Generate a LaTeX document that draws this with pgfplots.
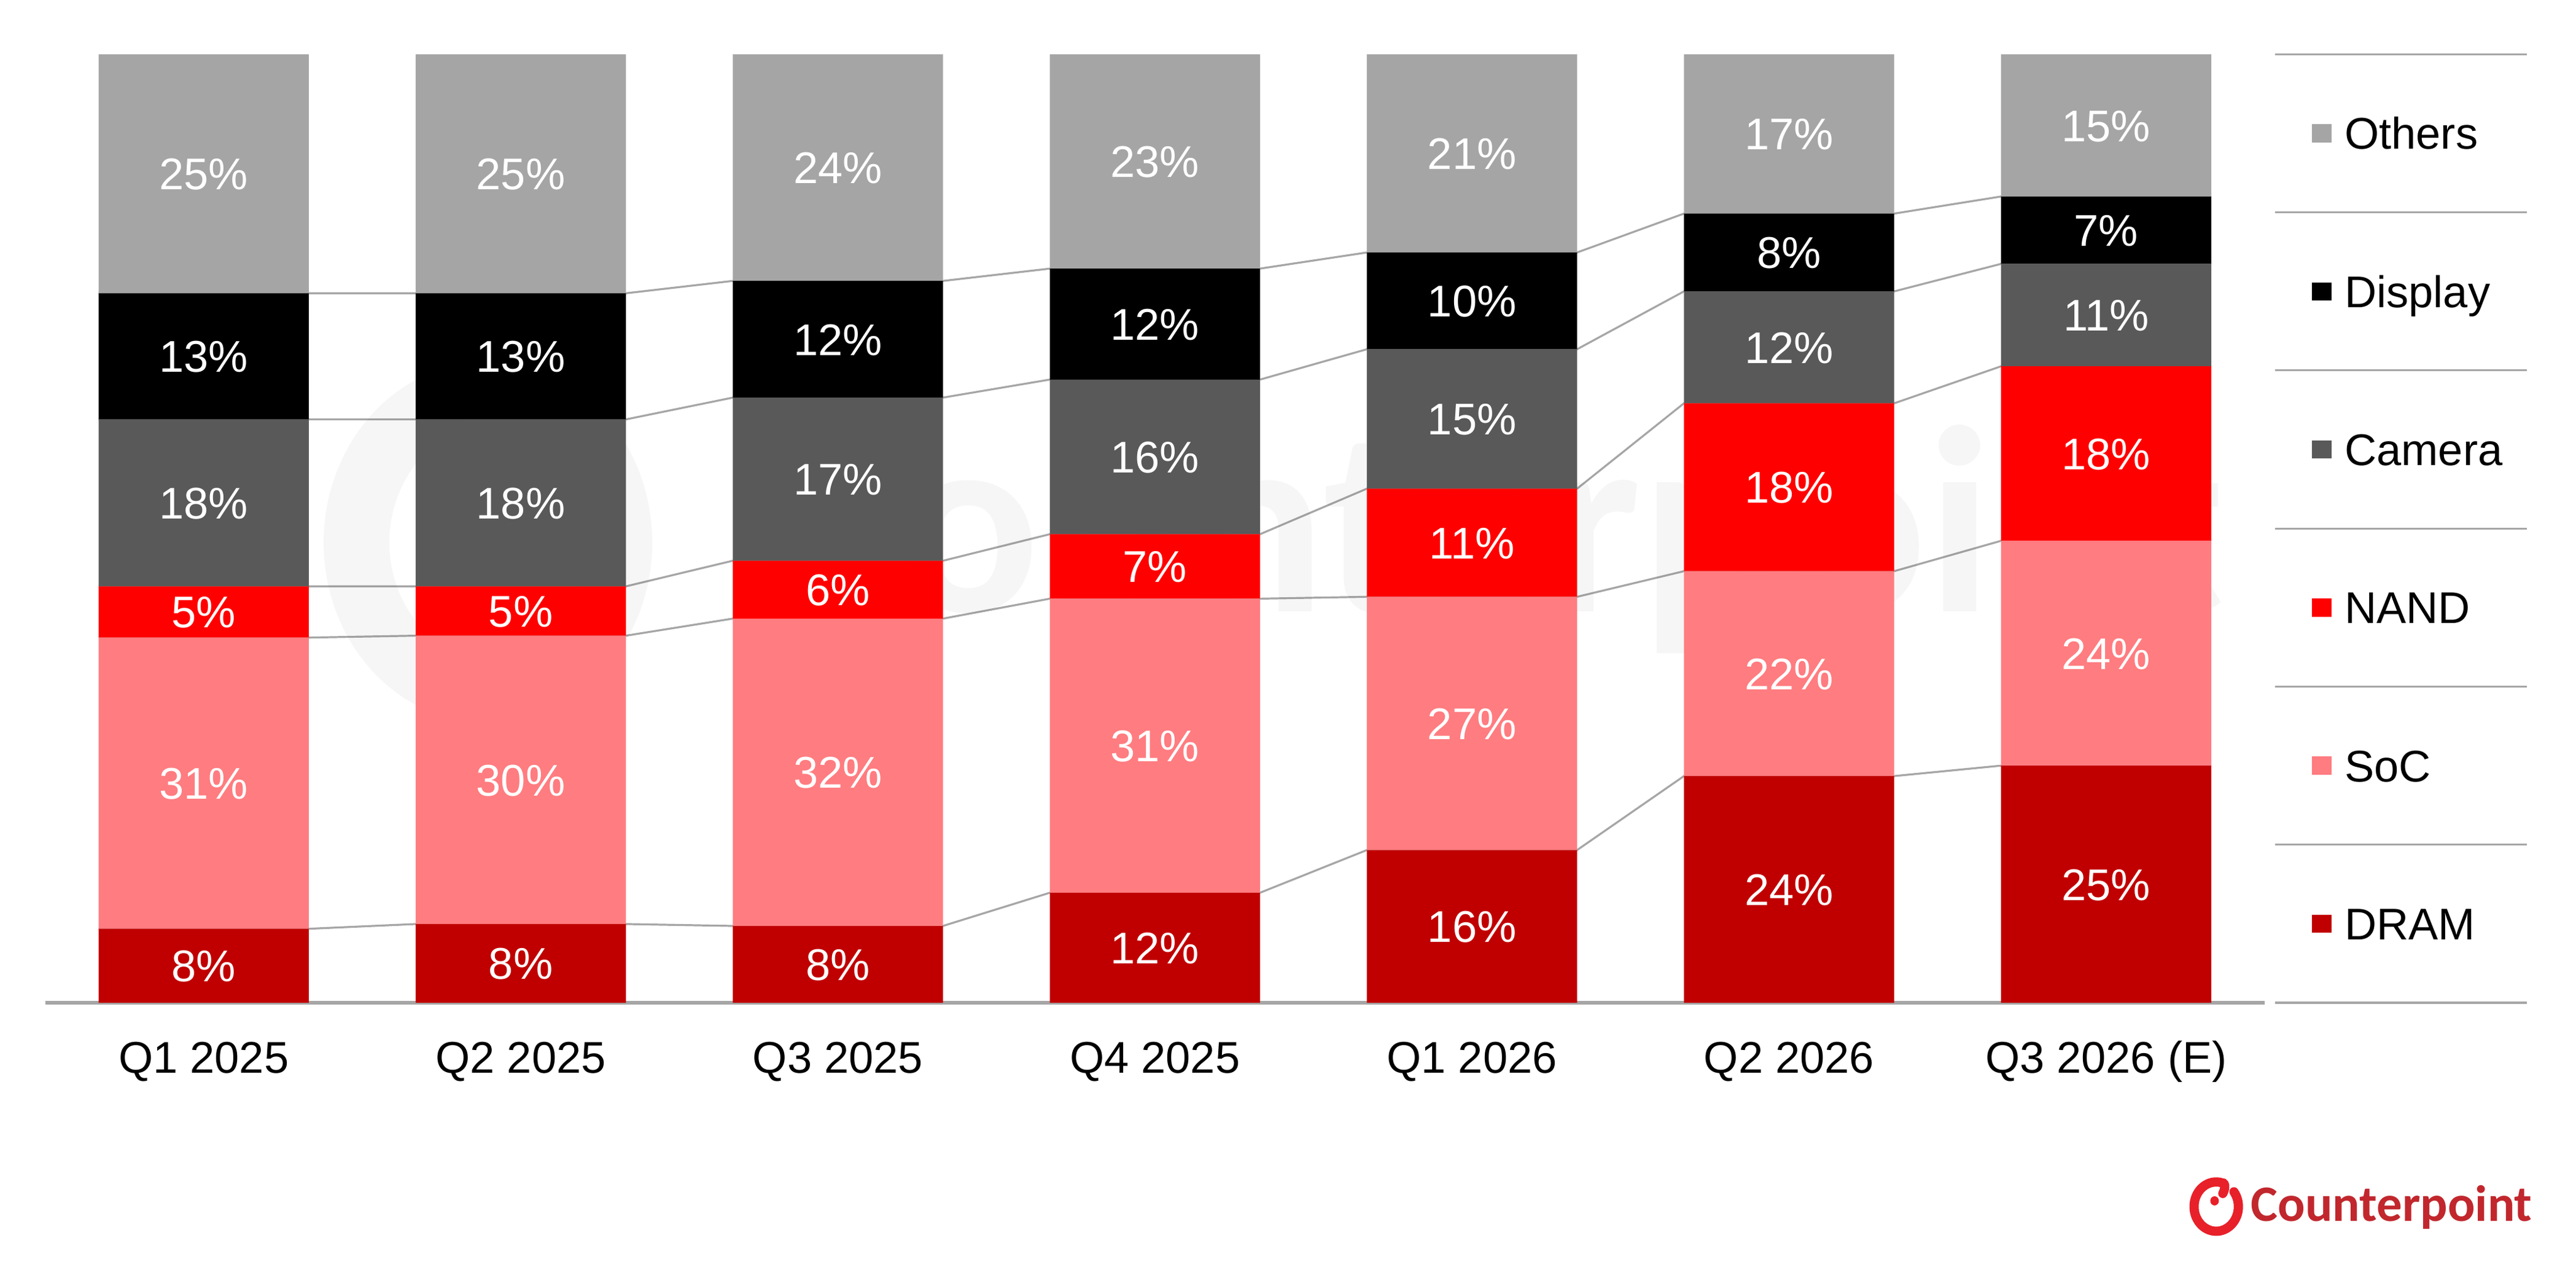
\documentclass[border=0pt]{standalone}
\usepackage{fontspec}
\setmainfont{Liberation Sans}
\newfontfamily\logofont{Carlito}
\usepackage{pgfplots}
\pgfplotsset{compat=1.18}
\usepackage{pgfplotstable}
\definecolor{cDram}{HTML}{C00000}
\definecolor{cSoc}{HTML}{FF7C80}
\definecolor{cNand}{HTML}{FF0000}
\definecolor{cCam}{HTML}{595959}
\definecolor{cDisp}{HTML}{000000}
\definecolor{cOth}{HTML}{A5A5A5}
\definecolor{cLine}{HTML}{A6A6A6}
\definecolor{cLogoTxt}{HTML}{C1272D}
\definecolor{cLogoIcon}{HTML}{E8202A}

% shares in percent (label = rounded value)
\pgfplotstableread{
x  dram soc  nand cam  disp oth
0  7.8  30.7 5.4  17.6 13.3 25.2
1  8.3  30.4 5.2  17.6 13.3 25.2
2  8.1  32.4 6.1  17.2 12.3 23.9
3  11.6 31.0 6.8  16.3 11.7 22.6
4  16.1 26.7 11.4 14.7 10.2 20.9
5  23.9 21.6 17.7 11.8 8.2  16.8
6  25.0 23.7 18.4 10.8 7.1  15.0
}\datatable

% same shares at the left and right edges of each bar (for the connector lines)
\pgfplotstableread{
x       dram soc  nand cam  disp
-0.3315 7.8  30.7 5.4  17.6 13.3
0.3315  7.8  30.7 5.4  17.6 13.3
0.6685  8.3  30.4 5.2  17.6 13.3
1.3315  8.3  30.4 5.2  17.6 13.3
1.6685  8.1  32.4 6.1  17.2 12.3
2.3315  8.1  32.4 6.1  17.2 12.3
2.6685  11.6 31.0 6.8  16.3 11.7
3.3315  11.6 31.0 6.8  16.3 11.7
3.6685  16.1 26.7 11.4 14.7 10.2
4.3315  16.1 26.7 11.4 14.7 10.2
4.6685  23.9 21.6 17.7 11.8 8.2
5.3315  23.9 21.6 17.7 11.8 8.2
5.6685  25.0 23.7 18.4 10.8 7.1
6.3315  25.0 23.7 18.4 10.8 7.1
}\linktable

\newcommand\labfont{\fontsize{27bp}{27bp}\selectfont}
\newcommand\tickfont{\fontsize{27bp}{27bp}\selectfont}

\pgfplotsset{
  base/.style={scale only axis, width=1351bp, height=577bp,
    xmin=-0.5, xmax=6.5, ymin=0, ymax=100, clip=false},
  seg/.style={fill=#1, draw=none, point meta=explicit}
}

\begin{document}
\begin{tikzpicture}
% connector lines (behind the bars)
\begin{axis}[base, hide axis, stack plots=y]
\addplot[cLine, line width=1.2bp, no marks] table[x=x,y=dram]{\linktable};
\addplot[cLine, line width=1.2bp, no marks] table[x=x,y=soc]{\linktable};
\addplot[cLine, line width=1.2bp, no marks] table[x=x,y=nand]{\linktable};
\addplot[cLine, line width=1.2bp, no marks] table[x=x,y=cam]{\linktable};
\addplot[cLine, line width=1.2bp, no marks] table[x=x,y=disp]{\linktable};
\end{axis}
% bars
\begin{axis}[base,
  ybar stacked, bar width=0.663,
  axis y line=none, axis x line*=bottom,
  x axis line style={draw=cLine, line width=2bp, -},
  xtick={0,1,2,3,4,5,6},
  xticklabels={Q1 2025,Q2 2025,Q3 2025,Q4 2025,Q1 2026,Q2 2026,Q3 2026 (E)},
  major tick length=0pt,
  xticklabel style={font=\tickfont, inner sep=0pt, text height=19.4bp, text depth=0pt, yshift=-23bp},
  /pgf/number format/assume math mode=true,
  nodes near coords={\pgfmathprintnumber[fixed,precision=0]{\pgfplotspointmeta}\%},
  every node near coord/.append style={white, font=\labfont, inner sep=0pt,
    text height=19.4bp, text depth=0pt, anchor=center},
]
\addplot[seg=cDram] table[x=x,y=dram,meta=dram]{\datatable};
\addplot[seg=cSoc]  table[x=x,y=soc,meta=soc]{\datatable};
\addplot[seg=cNand] table[x=x,y=nand,meta=nand]{\datatable};
\addplot[seg=cCam]  table[x=x,y=cam,meta=cam]{\datatable};
\addplot[seg=cDisp] table[x=x,y=disp,meta=disp]{\datatable};
\addplot[seg=cOth]  table[x=x,y=oth,meta=oth]{\datatable};

% faint watermark
\node[anchor=west, inner sep=0pt, text height=104bp, text depth=0pt, text opacity=0.035,
  font=\logofont\bfseries\fontsize{162bp}{162bp}\selectfont]
  at (rel axis cs:0.3201,0.5026) {Counterpoint};
\draw[black, opacity=0.035, line width=40bp]
  ([shift={(100:80bp and 90bp)}]rel axis cs:0.1995,0.4853)
  arc[start angle=100, end angle=400, x radius=80bp, y radius=90bp];

% legend
\draw[cLine, line width=1.2bp]
  (rel axis cs:1.0048,1) -- (rel axis cs:1.1181,1)
  (rel axis cs:1.0048,0.833333) -- (rel axis cs:1.1181,0.833333)
  (rel axis cs:1.0048,0.666667) -- (rel axis cs:1.1181,0.666667)
  (rel axis cs:1.0048,0.5) -- (rel axis cs:1.1181,0.5)
  (rel axis cs:1.0048,0.333333) -- (rel axis cs:1.1181,0.333333)
  (rel axis cs:1.0048,0.166667) -- (rel axis cs:1.1181,0.166667)
  (rel axis cs:1.0048,0) -- (rel axis cs:1.1181,0);
\tikzset{lsq/.style={fill=#1, inner sep=0pt, minimum width=12bp, minimum height=11bp},
         ltx/.style={anchor=west, inner sep=0pt, text height=19.4bp, text depth=0pt, font=\labfont}}
\node[lsq=cOth]  at (rel axis cs:1.0256,0.916667) {};
\node[lsq=cDisp] at (rel axis cs:1.0256,0.75) {};
\node[lsq=cCam]  at (rel axis cs:1.0256,0.583333) {};
\node[lsq=cNand] at (rel axis cs:1.0256,0.416667) {};
\node[lsq=cSoc]  at (rel axis cs:1.0256,0.25) {};
\node[lsq=cDram] at (rel axis cs:1.0256,0.083333) {};
\node[ltx] at (rel axis cs:1.0359,0.916667) {Others};
\node[ltx] at (rel axis cs:1.0359,0.75) {Display};
\node[ltx] at (rel axis cs:1.0359,0.583333) {Camera};
\node[ltx] at (rel axis cs:1.0359,0.416667) {NAND};
\node[ltx] at (rel axis cs:1.0359,0.25) {SoC};
\node[ltx] at (rel axis cs:1.0359,0.083333) {DRAM};

% logo
\draw[cLogoIcon, line width=5.6bp, line cap=round]
  ([shift={(37:13.5bp and 15bp)}]rel axis cs:0.97817,-0.2149)
  arc[start angle=397, end angle=75, x radius=13.5bp, y radius=15bp]
  to[out=0, in=60] ++(0.5bp,-6.5bp);
\fill[cLogoIcon] ([shift={(-1bp,3.5bp)}]rel axis cs:0.97817,-0.2149) circle[x radius=2.6bp, y radius=2.8bp];
\node[anchor=west, inner sep=0pt, text height=20bp, text depth=0pt, text=cLogoTxt,
  font=\logofont\bfseries\fontsize{31bp}{31bp}\selectfont]
  at (rel axis cs:0.99371,-0.2132) {Counterpoint};

% page size
\path (rel axis cs:-0.02036,-0.27279) rectangle (rel axis cs:1.14027,1.05719);
\end{axis}
\end{tikzpicture}
\end{document}
